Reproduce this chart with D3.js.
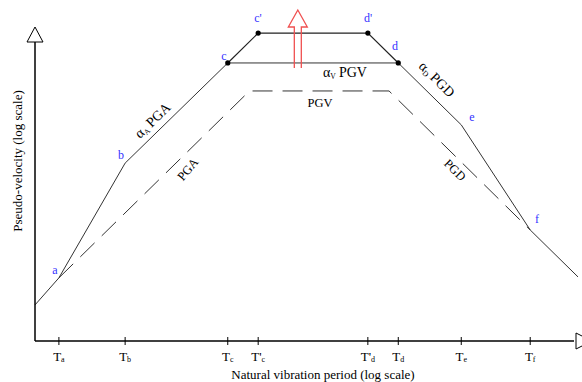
<!DOCTYPE html>
<html>
<head>
<meta charset="utf-8">
<script src="https://cdn.jsdelivr.net/npm/d3@7"></script>
<style>
  body { margin: 0; background: #fff; }
  svg { display: block; font-family: "Liberation Serif", "DejaVu Serif", serif; }
</style>
</head>
<body>
<div class="chart"></div>
<script>
// schematic values, x = log period, y = log pseudo-velocity (0..100 units)
var periodNames = ["a", "b", "c", "c'", "d'", "d", "e", "f"];
var tickLabels = [["T", "a"], ["T", "b"], ["T", "c"], ["T'", "c"], ["T'", "d"], ["T", "d"], ["T", "e"], ["T", "f"]];
var tickPos = [4.4, 16.6, 35.5, 41.1, 61.3, 66.9, 78.5, 91.2];

// design spectrum (solid)
var designX = [0, 4.4, 16.6, 35.5, 66.9, 78.5, 91.2, 100];
var designY = [11.6, 20.3, 57.2, 89.4, 89.4, 69.5, 35.7, 20.6];
// raised plateau c' - d'
var upperX = [35.5, 41.1, 61.3, 66.9];
var upperY = [89.4, 99.0, 99.0, 89.4];
// ground motion (dashed)
var groundX = [4.4, 39.5, 65.2, 91.2];
var groundY = [20.3, 80.4, 80.4, 35.7];

var W = 582, H = 382;
var svg = d3.select('.chart').append('svg')
    .attr('width', W)
    .attr('height', H);

var x = d3.scaleLinear().domain([0, 100]).range([35, 578]);
var y = d3.scaleLinear().domain([0, 100]).range([341, 30]);

var line = d3.line()
    .x(function (d) { return x(d[0]); })
    .y(function (d) { return y(d[1]); });

// dashed ground motion line
svg.append('path')
    .datum(d3.zip(groundX, groundY))
    .attr('d', line)
    .attr('fill', 'none')
    .style('stroke', '#333')
    .style('stroke-width', 1)
    .style('stroke-dasharray', '20,10');

// solid spectrum
svg.append('path')
    .datum(d3.zip(designX, designY))
    .attr('d', line)
    .attr('fill', 'none')
    .style('stroke', '#333')
    .style('stroke-width', 1);

svg.append('path')
    .datum(d3.zip(upperX, upperY))
    .attr('d', line)
    .attr('fill', 'none')
    .style('stroke', '#222')
    .style('stroke-width', 1.2);

// dots at c, c', d', d
var dots = d3.zip(upperX, upperY);
svg.selectAll('circle.pt').data(dots).enter().append('circle')
    .attr('class', 'pt')
    .attr('cx', function (d) { return x(d[0]); })
    .attr('cy', function (d) { return y(d[1]); })
    .attr('r', 2.6)
    .attr('fill', '#000');

// red outline arrow (amplification)
var ax = x(48.4), aTop = 10, aNeck = 27, aBot = 68;
svg.append('path')
    .attr('d', 'M' + (ax - 3.5) + ',' + aBot + 'V' + aNeck + 'H' + (ax - 9.5) +
        'L' + ax + ',' + aTop + 'L' + (ax + 9.5) + ',' + aNeck + 'H' + (ax + 3.5) + 'V' + aBot)
    .attr('fill', 'none')
    .style('stroke', '#f05050')
    .style('stroke-width', 1.3);

// axes
var axisG = svg.append('g');
axisG.append('line')
    .attr('x1', 35).attr('y1', 341).attr('x2', 574).attr('y2', 341)
    .style('stroke', '#000').style('stroke-width', 1.5);
axisG.append('line')
    .attr('x1', 35).attr('y1', 42).attr('x2', 35).attr('y2', 341)
    .style('stroke', '#000').style('stroke-width', 1.5);
axisG.append('path')
    .attr('d', 'M27,42 L35,27 L43,42 Z')
    .attr('fill', '#fff').style('stroke', '#000').style('stroke-width', 1);
axisG.append('path')
    .attr('d', 'M576,333 L592,341 L576,349 Z')
    .attr('fill', '#fff').style('stroke', '#000').style('stroke-width', 1);

// ticks
var ticks = svg.selectAll('g.tick').data(tickPos).enter().append('g')
    .attr('class', 'tick')
    .attr('transform', function (d) { return 'translate(' + x(d) + ',0)'; });
ticks.append('line')
    .attr('y1', 337).attr('y2', 345)
    .style('stroke', '#000').style('stroke-width', 1);
ticks.append('text')
    .attr('y', 361)
    .attr('text-anchor', 'middle')
    .style('font-size', '13px')
    .each(function (d, i) {
        var t = d3.select(this);
        t.append('tspan').text(tickLabels[i][0]);
        t.append('tspan').attr('dy', 1).style('font-size', '8px').text(tickLabels[i][1]);
    });

// axis titles
svg.append('text')
    .attr('x', 323).attr('y', 379)
    .attr('text-anchor', 'middle')
    .style('font-size', '13px')
    .text('Natural vibration period (log scale)');
svg.append('text')
    .attr('transform', 'translate(22,161) rotate(-90)')
    .attr('text-anchor', 'middle')
    .style('font-size', '13px')
    .text('Pseudo-velocity (log scale)');

// point letters
var letterPos = [[55, 274], [121, 159], [224, 60], [258, 22], [368, 22], [395, 50], [472, 121], [537, 223]];
svg.selectAll('text.lbl').data(periodNames).enter().append('text')
    .attr('class', 'lbl')
    .attr('x', function (d, i) { return letterPos[i][0]; })
    .attr('y', function (d, i) { return letterPos[i][1]; })
    .attr('text-anchor', 'middle')
    .style('font-size', '12px')
    .style('fill', '#3333ff')
    .text(function (d) { return d; });

// line labels
function amp(g, sub, word, size) {
    var t = g.append('text').style('font-size', size + 'px');
    t.append('tspan').text('\u03b1');
    t.append('tspan').attr('dy', 2).style('font-size', (size * 0.55) + 'px').text(sub);
    t.append('tspan').attr('dy', -2).attr('dx', 3).text(word);
    return t;
}
amp(svg.append('g').attr('transform', 'translate(323,77)'), 'V', 'PGV', 14);
amp(svg.append('g').attr('transform', 'translate(140,139) rotate(-44)'), 'A', 'PGA', 14);
amp(svg.append('g').attr('transform', 'translate(418,67) rotate(45)'), 'D', 'PGD', 14);

svg.append('text')
    .attr('x', 320).attr('y', 107)
    .attr('text-anchor', 'middle')
    .style('font-size', '12.5px')
    .text('PGV');
svg.append('text')
    .attr('transform', 'translate(191,172) rotate(-50)')
    .attr('text-anchor', 'middle')
    .style('font-size', '12.5px')
    .text('PGA');
svg.append('text')
    .attr('transform', 'translate(452,173) rotate(45)')
    .attr('text-anchor', 'middle')
    .style('font-size', '12.5px')
    .text('PGD');
</script>
</body>
</html>
